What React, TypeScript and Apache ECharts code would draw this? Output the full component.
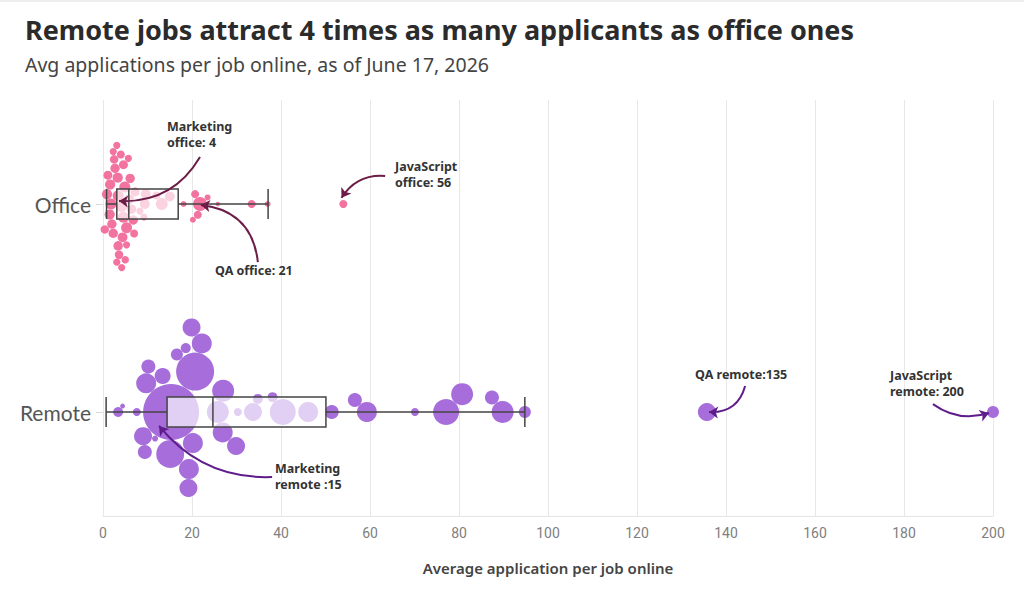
import React, { useEffect, useRef } from "react";
import * as echarts from "echarts";

// ---------- data ----------
const categories = ["Office", "Remote"];

// average applications per job (office)
const officeValues = [
  3.1, 4.2, 5.7, 2.7, 4.6, 1.1, 6.4, 2.3, 4.2, 3.4, 5.3, 1.6, 8.3, 0.4, 2.3, 4.6, 2.0, 6.8,
  4.9, 0.9, 6.1, 3.4, 7.2, 3.1, 5.3, 1.5, 1.8, 2.5, 5.9, 4.0, 3.3, 7.0, 4.4, 3.6, 5.0,
  9.4, 9.6, 13.2, 12.0, 15.0, 9.2,
  21.8, 21.3, 20.7, 20.2, 18.1, 23.5, 25.8, 33.4, 37.0, 54.0,
];
// number of job listings behind each office bubble (bubble area)
const officeListings = [
  13, 13, 13, 22, 20, 20, 22, 22, 30, 30, 30, 26, 13, 18, 13, 30, 22, 22,
  30, 26, 22, 22, 20, 13, 13, 26, 30, 18, 24, 16, 26, 16, 24, 18, 14,
  25, 25, 36, 16, 25, 12,
  49, 16, 16, 9, 9, 9, 5, 16, 9, 16,
];

// average applications per job (remote)
const remoteValues = [
  3.4, 4.4, 7.6, 15.3, 20.7, 20.2, 19.3, 16.6, 9.4, 13.4, 9.7, 25.8, 29.9, 34.8, 38.1,
  27.0, 30.3, 33.7, 40.4, 46.1, 51.4, 56.6, 59.3, 70.1, 77.1, 80.7, 87.4, 89.8, 94.8,
  26.9, 22.2, 9.0, 11.7, 10.2, 15.1, 19.2, 19.9, 18.6, 135.7, 200,
];
const remoteListings = [
  25, 6, 16, 784, 361, 100, 100, 36, 49, 64, 100, 121, 81, 25, 25,
  121, 16, 81, 169, 100, 49, 49, 100, 16, 169, 121, 49, 121, 36,
  100, 100, 81, 9, 49, 196, 81, 81, 25, 81, 36,
];

// box plot stats: min, Q1, median, Q3, max
const officeBox = [0.8, 3.1, 5.8, 16.9, 37.1];
const remoteBox = [0.7, 14.4, 24.7, 50.1, 94.8];

// annotations: label text, and arrow from/to in data units (x value, row index + offset)
const annotationTexts = [
  "Marketing\noffice: 4",
  "QA office: 21",
  "JavaScript\noffice: 56",
  "QA remote:135",
  "JavaScript\nremote: 200",
  "Marketing\nremote :15",
];
const annotationArrows: number[][] = [
  [21.8, -0.226, 3.6, -0.014, 0.3],
  [34.8, 0.279, 22.0, 0.005, -0.4],
  [63.4, -0.135, 53.6, -0.03, -0.3],
  [144.3, 0.875, 136.2, 1.0, 0.4],
  [186.5, 0.962, 199.1, 1.005, -0.25],
  [38.0, 1.3125, 12.6, 1.067, 0.25],
];
const annotationRows = [0, 0, 0, 1, 1, 1];

// ---------- layout ----------
const W = 1024;
const H = 595;
const GRID = { left: 103, right: 31, top: 100, height: 416 };
const X_MAX = 200;
const PINK = "#f2739f";
const PURPLE = "#a66ddb";
const ARROW_COLORS = ["#6b1d47", "#5f1d8c"];
const LABEL_POS: number[][] = [
  [167, 118],
  [215, 262],
  [395, 158],
  [695, 366],
  [890, 367],
  [275, 460],
];

function swarm(values: number[], radii: number[], pxPerUnit: number): number[] {
  const n = values.length;
  const order = values
    .map((_, i) => i)
    .sort((a, b) => radii[b] - radii[a] || values[a] - values[b]);
  const placed: { x: number; y: number; r: number }[] = [];
  const out = new Array(n).fill(0);
  for (const i of order) {
    const x = values[i] * pxPerUnit;
    const r = radii[i];
    const cands = [0];
    for (const p of placed) {
      const dx = x - p.x;
      const d = r + p.r;
      if (Math.abs(dx) < d) {
        const dy = Math.sqrt(d * d - dx * dx);
        cands.push(p.y - dy, p.y + dy);
      }
    }
    cands.sort((a, b) => Math.abs(a) - Math.abs(b) || a - b);
    let best = 0;
    for (const c of cands) {
      const ok = placed.every((p) => {
        const dx = x - p.x;
        const dy = c - p.y;
        const d = r + p.r - 0.05;
        return dx * dx + dy * dy >= d * d;
      });
      if (ok) {
        best = c;
        break;
      }
    }
    placed.push({ x, y: best, r });
    out[i] = best;
  }
  return out;
}

export default function App() {
  const ref = useRef<HTMLDivElement>(null);

  useEffect(() => {
    document.body.style.margin = "0";
    if (!ref.current) return;
    const chart = echarts.init(ref.current, null, { renderer: "svg" });

    const plotW = W - GRID.left - GRID.right;
    const pxPerX = plotW / X_MAX;
    const bandPx = GRID.height / categories.length;

    const makePoints = (vals: number[], listings: number[], row: number) => {
      const radii = listings.map((l) => Math.sqrt(l));
      const offs = swarm(vals, radii, pxPerX);
      return vals.map((v, i) => ({
        value: [v, row + offs[i] / bandPx],
        symbolSize: 2 * radii[i],
      }));
    };

    const option: any = {
      animation: false,
      title: {
        text: "Remote jobs attract 4 times as many applicants as office ones",
        subtext: "Avg applications per job online, as of June 17, 2026",
        left: 20,
        top: 11,
        itemGap: 11,
        textStyle: { fontFamily: "Noto Sans", fontSize: 27, fontWeight: "bold", color: "#2b2b2b" },
        subtextStyle: { fontFamily: "Noto Sans", fontSize: 19.5, color: "#444" },
      },
      grid: { left: GRID.left, right: GRID.right, top: GRID.top, height: GRID.height },
      xAxis: {
        type: "value",
        min: 0,
        max: X_MAX,
        interval: 20,
        name: "Average application per job online",
        nameLocation: "middle",
        nameGap: 44,
        nameTextStyle: { fontFamily: "Noto Sans", fontSize: 15, fontWeight: 600, color: "#444" },
        axisLine: { show: true, onZero: false, lineStyle: { color: "#e6e6e6" } },
        axisTick: { show: false },
        axisLabel: { fontFamily: "Roboto", fontSize: 14, color: "#808080", margin: 10 },
        splitLine: { show: true, lineStyle: { color: "#e8e8e8" } },
      },
      yAxis: [
        {
          type: "category",
          data: categories,
          inverse: true,
          axisLine: { show: false },
          axisTick: { show: true, alignWithLabel: true, length: 7, lineStyle: { color: "#d8d8d8" } },
          axisLabel: { fontFamily: "Lato", fontSize: 21, color: "#555", margin: 12 },
          splitLine: { show: false },
        },
        {
          type: "value",
          min: -0.5,
          max: 1.5,
          inverse: true,
          show: false,
          axisLine: { show: false },
          splitLine: { show: false },
        },
      ],
      series: [
        {
          type: "scatter",
          name: "Office",
          yAxisIndex: 1,
          z: 2,
          symbol: "circle",
          itemStyle: { color: PINK, opacity: 1 },
          data: makePoints(officeValues, officeListings, 0),
        },
        {
          type: "scatter",
          name: "Remote",
          yAxisIndex: 1,
          z: 2,
          symbol: "circle",
          itemStyle: { color: PURPLE, opacity: 1 },
          data: makePoints(remoteValues, remoteListings, 1),
        },
        {
          type: "boxplot",
          yAxisIndex: 0,
          z: 3,
          boxWidth: [30, 30],
          itemStyle: { color: "rgba(255,255,255,0.68)", borderColor: "#444", borderWidth: 1.5 },
          data: [officeBox, remoteBox],
        },
        {
          type: "lines",
          coordinateSystem: "cartesian2d",
          xAxisIndex: 0,
          yAxisIndex: 1,
          z: 5,
          symbol: ["none", "arrow"],
          symbolSize: 9,
          data: annotationArrows.map((a, i) => ({
            coords: [
              [a[0], a[1]],
              [a[2], a[3]],
            ],
            lineStyle: {
              color: ARROW_COLORS[annotationRows[i]],
              width: 2,
              curveness: a[4],
              opacity: 1,
            },
          })),
        },
      ],
      graphic: [
        {
          type: "line",
          shape: { x1: 0, y1: 1, x2: W, y2: 1 },
          style: { stroke: "#eeeeee", lineWidth: 2 },
        },
        ...annotationTexts.map((t, i) => ({
          type: "text",
          left: LABEL_POS[i][0],
          top: LABEL_POS[i][1],
          z: 10,
          style: {
            text: t,
            fontFamily: "Noto Sans",
            fontSize: 12.5,
            fontWeight: "bold",
            fill: "#333",
            lineHeight: 16.5,
          },
        })),
      ],
    };

    chart.setOption(option);
    return () => chart.dispose();
  }, []);

  return <div ref={ref} style={{ width: W, height: H }} />;
}
